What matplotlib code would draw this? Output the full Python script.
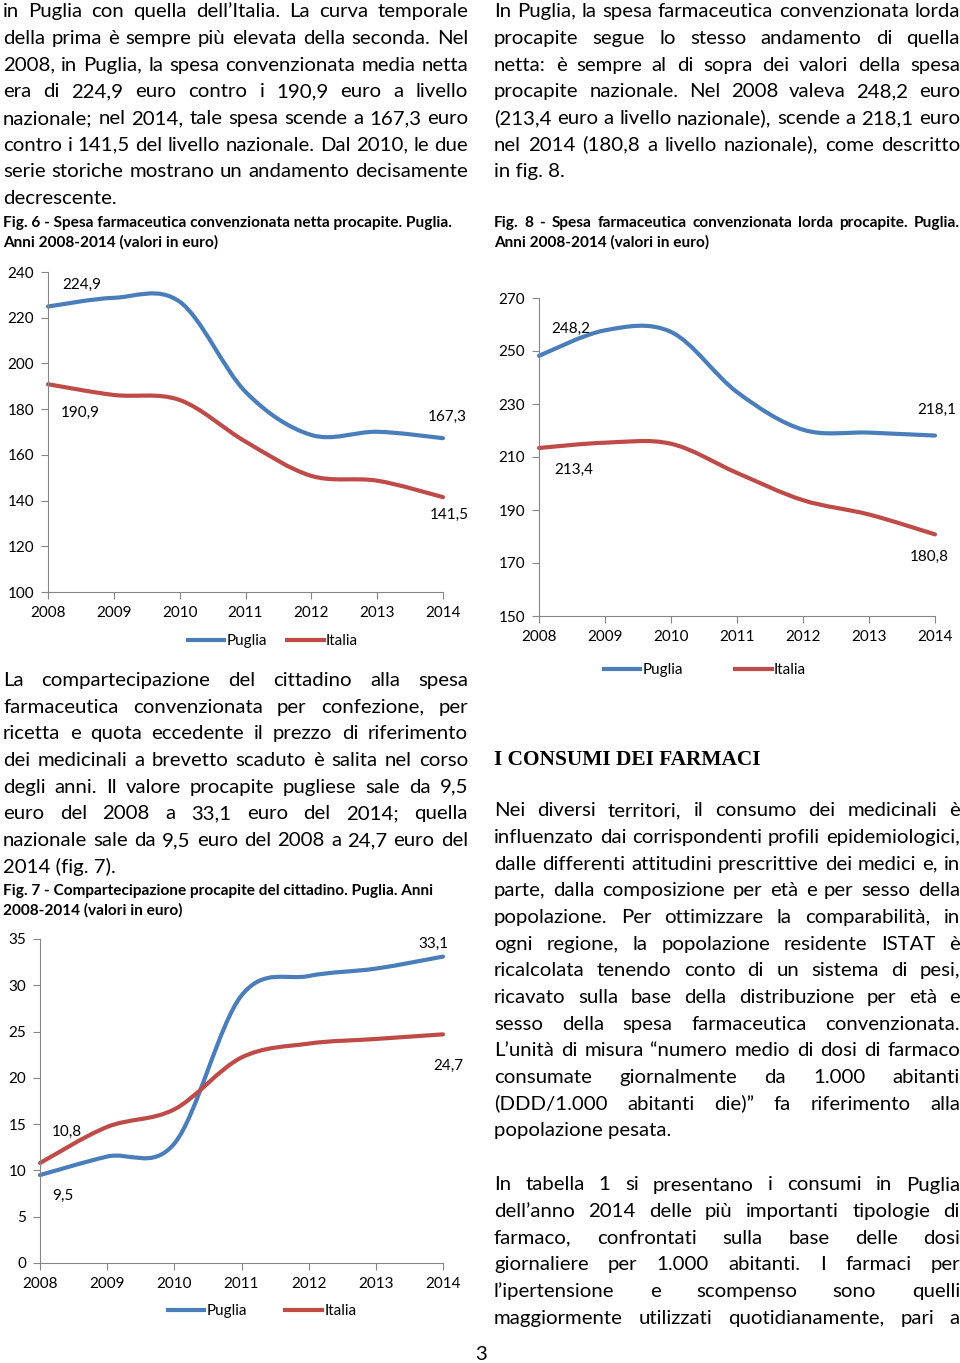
import matplotlib
matplotlib.use("Agg")
import matplotlib.pyplot as plt
from matplotlib.path import Path
from matplotlib.patches import PathPatch
from matplotlib.lines import Line2D
from matplotlib.font_manager import FontProperties

# data
years = [2008, 2009, 2010, 2011, 2012, 2013, 2014]
series_names = ["Puglia", "Italia"]

netta_puglia = [224.9, 228.7, 227.0, 187.6, 168.7, 170.1, 167.3]
netta_italia = [190.9, 186.2, 184.0, 165.8, 150.8, 148.7, 141.5]

lorda_puglia = [248.2, 257.8, 257.2, 234.5, 220.3, 219.2, 218.1]
lorda_italia = [213.4, 215.4, 215.0, 204.0, 193.7, 188.3, 180.8]

comp_puglia = [9.5, 11.5, 12.9, 28.9, 31.0, 31.8, 33.1]
comp_italia = [10.8, 14.7, 16.6, 22.2, 23.7, 24.2, 24.7]

netta_ticks = [100, 120, 140, 160, 180, 200, 220, 240]
lorda_ticks = [150, 170, 190, 210, 230, 250, 270]
comp_ticks = [0, 5, 10, 15, 20, 25, 30, 35]

# page text
left_p1 = [
    "in Puglia con quella dell’Italia. La curva temporale",
    "della prima è sempre più elevata della seconda. Nel",
    "2008, in Puglia, la spesa convenzionata media netta",
    "era di 224,9 euro contro i 190,9 euro a livello",
    "nazionale; nel 2014, tale spesa scende a 167,3 euro",
    "contro i 141,5 del livello nazionale. Dal 2010, le due",
    "serie storiche mostrano un andamento decisamente",
    "decrescente.",
]
right_p1 = [
    "In Puglia, la spesa farmaceutica convenzionata lorda",
    "procapite segue lo stesso andamento di quella",
    "netta: è sempre al di sopra dei valori della spesa",
    "procapite nazionale. Nel 2008 valeva 248,2 euro",
    "(213,4 euro a livello nazionale), scende a 218,1 euro",
    "nel 2014 (180,8 a livello nazionale), come descritto",
    "in fig. 8.",
]
left_p2 = [
    "La compartecipazione del cittadino alla spesa",
    "farmaceutica convenzionata per confezione, per",
    "ricetta e quota eccedente il prezzo di riferimento",
    "dei medicinali a brevetto scaduto è salita nel corso",
    "degli anni. Il valore procapite pugliese sale da 9,5",
    "euro del 2008 a 33,1 euro del 2014; quella",
    "nazionale sale da 9,5 euro del 2008 a 24,7 euro del",
    "2014 (fig. 7).",
]
right_p2 = [
    "Nei diversi territori, il consumo dei medicinali è",
    "influenzato dai corrispondenti profili epidemiologici,",
    "dalle differenti attitudini prescrittive dei medici e, in",
    "parte, dalla composizione per età e per sesso della",
    "popolazione. Per ottimizzare la comparabilità, in",
    "ogni regione, la popolazione residente ISTAT è",
    "ricalcolata tenendo conto di un sistema di pesi,",
    "ricavato sulla base della distribuzione per età e",
    "sesso della spesa farmaceutica convenzionata.",
    "L’unità di misura “numero medio di dosi di farmaco",
    "consumate giornalmente da 1.000 abitanti",
    "(DDD/1.000 abitanti die)” fa riferimento alla",
    "popolazione pesata.",
]
right_p3 = [
    "In tabella 1 si presentano i consumi in Puglia",
    "dell’anno 2014 delle più importanti tipologie di",
    "farmaco, confrontati sulla base delle dosi",
    "giornaliere per 1.000 abitanti. I farmaci per",
    "l’ipertensione e scompenso sono quelli",
    "maggiormente utilizzati quotidianamente, pari a",
]
cap6 = ["Fig. 6 - Spesa farmaceutica convenzionata netta procapite. Puglia.",
        "Anni 2008-2014 (valori in euro)"]
cap8 = ["Fig. 8 - Spesa farmaceutica convenzionata lorda procapite. Puglia.",
        "Anni 2008-2014 (valori in euro)"]
cap7 = ["Fig. 7 - Compartecipazione procapite del cittadino. Puglia. Anni",
        "2008-2014 (valori in euro)"]

BLUE = "#4a7ebb"
RED = "#be4b48"
GRAY = "#868686"
BODY = ["Lato", "DejaVu Sans"]

plt.rcParams["font.family"] = BODY

W, H = 960, 1363
fig = plt.figure(figsize=(W / 100, H / 100), dpi=100)
renderer = fig.canvas.get_renderer()


def fx(x):
    return x / W


def fy(y):
    return 1 - y / H


def text_width(s, size, weight="normal"):
    prop = FontProperties(family=BODY, size=size, weight=weight)
    return renderer.get_text_width_height_descent(s, prop, ismath=False)[0]


def put_lines(lines, x0, x1, y0, dy, size, weight="normal", last_justified=False, no_justify=()):
    prop = FontProperties(family=BODY, size=size, weight=weight)
    for i, line in enumerate(lines):
        y = y0 + i * dy
        words = line.split(" ")
        justify = (i < len(lines) - 1 or last_justified) and i not in no_justify
        if justify and len(words) > 1:
            widths = [renderer.get_text_width_height_descent(w, prop, ismath=False)[0] for w in words]
            gap = (x1 - x0 - sum(widths)) / (len(words) - 1)
            x = x0
            for w, wd in zip(words, widths):
                fig.text(fx(x), fy(y), w, fontproperties=prop, va="baseline", ha="left")
                x += wd + gap
        else:
            fig.text(fx(x0), fy(y), line, fontproperties=prop, va="baseline", ha="left")


def smooth_path(xs, ys):
    # Excel-like smoothed line: bezier through the points
    n = len(xs)
    pts = list(zip(xs, ys))
    verts = [pts[0]]
    codes = [Path.MOVETO]
    for i in range(n - 1):
        p0 = pts[i - 1] if i > 0 else pts[i]
        p1 = pts[i]
        p2 = pts[i + 1]
        p3 = pts[i + 2] if i + 2 < n else pts[i + 1]
        c1 = (p1[0] + (p2[0] - p0[0]) / 6, p1[1] + (p2[1] - p0[1]) / 6)
        c2 = (p2[0] - (p3[0] - p1[0]) / 6, p2[1] - (p3[1] - p1[1]) / 6)
        verts += [c1, c2, p2]
        codes += [Path.CURVE4] * 3
    return Path(verts, codes)


def draw_chart(left, top, right, bottom, puglia, italia, ticks, label_offsets,
               legend_center, colspace):
    ax = fig.add_axes([fx(left), fy(bottom), (right - left) / W, (bottom - top) / H])
    for vals, color in ((puglia, BLUE), (italia, RED)):
        ax.add_patch(PathPatch(smooth_path(years, vals), fill=False, ec=color, lw=3,
                               capstyle="round", joinstyle="round", clip_on=False))
    ax.set_xlim(years[0], years[-1])
    ax.set_ylim(ticks[0], ticks[-1])
    ax.set_xticks(years)
    ax.set_yticks(ticks)
    for s in ("top", "right"):
        ax.spines[s].set_visible(False)
    for s in ("left", "bottom"):
        ax.spines[s].set_color(GRAY)
    ax.tick_params(axis="both", direction="out", length=5, color=GRAY, labelsize=11)
    ax.tick_params(axis="y", pad=5)
    ax.tick_params(axis="x", pad=5)

    # value labels at first and last year (offsets in px, y measured downward)
    for vals, offs in zip((puglia, italia), label_offsets):
        for idx, (dx, dy) in zip((0, -1), offs):
            ax.annotate(f"{vals[idx]:.1f}".replace(".", ","), xy=(years[idx], vals[idx]),
                        xytext=(dx, -dy), textcoords="offset pixels", ha="center",
                        va="center", fontsize=11)

    handles = [Line2D([], [], color=BLUE, lw=3), Line2D([], [], color=RED, lw=3)]
    ax.legend(handles, series_names, ncol=2, frameon=False, loc="center",
              bbox_to_anchor=(fx(legend_center[0]), fy(legend_center[1])),
              bbox_transform=fig.transFigure, handlelength=2.4, handletextpad=0.15,
              columnspacing=colspace, fontsize=11)
    return ax


# body size: largest size at which every justified line still fits its column
justified = left_p1[:-1] + right_p1[:-1] + left_p2[:-1] + right_p2[:-1] + right_p3
BS = min(10 * 465 / text_width(s, 10) for s in justified)
# caption size from the width of the fig. 6 caption (3 -> 450 px)
CS = 10 * 447 / text_width(cap6[0], 10, "bold")
LH = 26.65

put_lines(left_p1, 3, 468, 17.3, LH, BS)
put_lines(cap6, 3, 468, 227, 19.6, CS, weight="bold", no_justify=(0,))

put_lines(right_p1, 494, 960, 17.3, LH, BS)
put_lines(cap8, 494, 960, 227, 19.6, CS, weight="bold")

put_lines(left_p2, 3, 468, 686, LH, BS)
put_lines(cap7, 3, 468, 895, 19.6, CS, weight="bold", no_justify=(0,))

fig.text(fx(494), fy(765), "I CONSUMI DEI FARMACI", family="Liberation Serif",
         weight="bold", fontsize=15.4, va="baseline")

put_lines(right_p2, 494, 960, 816.5, LH, BS)
put_lines(right_p3, 494, 960, 1190.5, LH, BS, last_justified=True)

fig.text(fx(481), fy(1360), "3", fontsize=BS, ha="center", va="baseline")

# ---- charts ----
draw_chart(48, 272, 443, 592, netta_puglia, netta_italia, netta_ticks,
           [[(34, -22), (4, -21)], [(32, 29), (6, 18)]], (273, 641), 1.3)
draw_chart(539, 298, 935, 616, lorda_puglia, lorda_italia, lorda_ticks,
           [[(32, -27), (2, -26)], [(35, 22), (-6, 23)]], (705, 670), 3.4)
draw_chart(40, 939, 443, 1263, comp_puglia, comp_italia, comp_ticks,
           [[(23, 21), (-10, -13)], [(27, -31), (5, 32)]], (262, 1311), 2.5)

fig.savefig("out.png", dpi=100)
